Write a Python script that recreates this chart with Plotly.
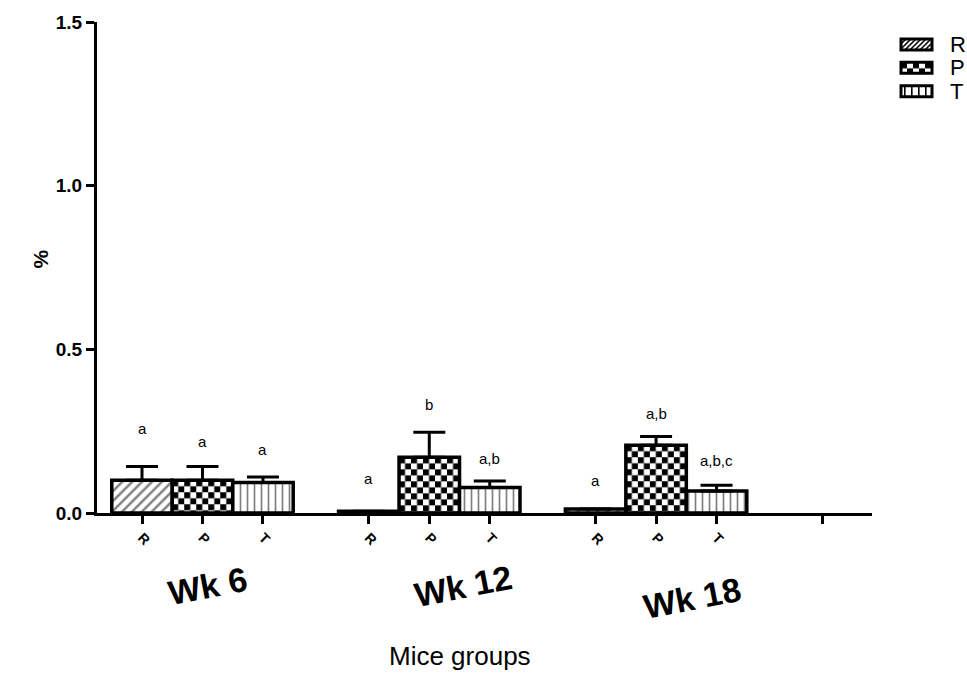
import base64
import plotly.graph_objects as go

# ---------------- data ----------------
groups = ["Wk 6", "Wk 12", "Wk 18"]
series_names = ["R", "P", "T"]

r_values = [0.100, 0.005, 0.012]
p_values = [0.100, 0.170, 0.207]
t_values = [0.093, 0.078, 0.067]

r_errors = [0.042, 0.0, 0.0]
p_errors = [0.042, 0.077, 0.027]
t_errors = [0.017, 0.020, 0.018]

r_letters = ["a", "a", "a"]
p_letters = ["a", "b", "a,b"]
t_letters = ["a", "a,b", "a,b,c"]

r_letter_y = [0.259, 0.106, 0.098]
p_letter_y = [0.217, 0.332, 0.304]
t_letter_y = [0.195, 0.167, 0.161]

y_ticks = [0.0, 0.5, 1.0, 1.5]
y_tick_labels = ["0.0", "0.5", "1.0", "1.5"]

# ---------------- layout helpers ----------------
W, H = 967, 688
ML, MR, MT, MB = 97, 95, 20, 175
PW = W - ML - MR
PH = H - MT - MB


def px(x):
    return (x - ML) / PW


def py(y):
    return 1 - (y - MT) / PH


FONT = "Liberation Sans, Arial, sans-serif"

group_start = [0.0, 3.75, 7.5]
extra_tick = 11.25


def svg_uri(body, w, h):
    svg = ('<svg xmlns="http://www.w3.org/2000/svg" width="100%" height="100%">'
           '<defs><pattern id="p" x="0" y="0" width="{w}" height="{h}" '
           'patternUnits="userSpaceOnUse">{body}</pattern></defs>'
           '<rect x="0" y="0" width="100%" height="100%" fill="url(#p)"/></svg>'
           ).format(w=w, h=h, body=body)
    return "data:image/svg+xml;base64," + base64.b64encode(svg.encode()).decode()


check_uri = svg_uri('<rect width="12" height="12" fill="white"/>'
                    '<rect width="6" height="6" fill="black"/>'
                    '<rect x="6" y="6" width="6" height="6" fill="black"/>', 12, 12)
diag_uri = svg_uri('<rect width="5" height="5" fill="white"/>'
                   '<path d="M-1.25,1.25 l2.5,-2.5 M0,5 l5,-5 M3.75,6.25 l2.5,-2.5" '
                   'stroke="black" stroke-width="1.6"/>', 5, 5)
vert_uri = svg_uri('<rect width="7" height="7" fill="white"/>'
                   '<rect x="3" y="0" width="1.6" height="7" fill="black"/>', 7, 7)

series_values = [r_values, p_values, t_values]
series_errors = [r_errors, p_errors, t_errors]
series_letters = [r_letters, p_letters, t_letters]
series_letter_y = [r_letter_y, p_letter_y, t_letter_y]

fig = go.Figure()
images = []
annotations = []
shapes = []
tickvals = []
ticktext = []

for si, name in enumerate(series_names):
    xs = [g + si for g in group_start]
    vals = series_values[si]
    errs = series_errors[si]
    if name == "R":
        marker = dict(color="white", line=dict(color="black", width=3.5),
                      pattern=dict(shape="/", fgcolor="black", bgcolor="white",
                                   size=7, solidity=0.35))
    elif name == "T":
        marker = dict(color="white", line=dict(color="black", width=3.5),
                      pattern=dict(shape="|", fgcolor="black", bgcolor="white",
                                   size=7, solidity=0.24))
    else:
        marker = dict(color="rgba(0,0,0,0)", line=dict(color="black", width=3.5))
        for x, v in zip(xs, vals):
            images.append(dict(source=check_uri, xref="x", yref="y",
                               x=x - 0.5, y=v, sizex=1, sizey=v,
                               xanchor="left", yanchor="top",
                               sizing="stretch", layer="below"))
    fig.add_trace(go.Bar(
        x=xs, y=vals, width=1, name=name, marker=marker, showlegend=False,
        error_y=dict(type="data", array=errs, arrayminus=[0] * len(errs),
                     symmetric=False, color="black", thickness=3, width=16),
    ))
    for x, lab, ly in zip(xs, series_letters[si], series_letter_y[si]):
        annotations.append(dict(x=x, y=ly, xref="x", yref="y", text=lab,
                                showarrow=False,
                                font=dict(family=FONT, size=15, color="black")))

for g in group_start:
    for si, name in enumerate(series_names):
        tickvals.append(g + si)
        ticktext.append(name)
tickvals.append(extra_tick)
ticktext.append("")

# group labels
group_label_x = [1.08, 5.31, 9.09]
group_label_py = [586, 586, 598]
for gl, gx, gy in zip(groups, group_label_x, group_label_py):
    annotations.append(dict(x=gx, y=py(gy), xref="x", yref="paper", text=gl,
                            showarrow=False, textangle=-11,
                            xanchor="center", yanchor="middle",
                            font=dict(family=FONT, size=34, color="black",
                                      weight="bold")))

# axis titles
annotations.append(dict(x=px(27), y=py(258), xref="paper", yref="paper", text="%",
                        showarrow=False, textangle=-90,
                        font=dict(family=FONT, size=21, color="black", weight="bold")))
annotations.append(dict(x=px(460), y=py(674), xref="paper", yref="paper",
                        text="Mice groups", showarrow=False,
                        font=dict(family=FONT, size=26, color="black")))

# custom legend
legend_uris = [diag_uri, check_uri, vert_uri]
for i, name in enumerate(series_names):
    cy = 42.5 + 23.5 * i
    x0, x1 = 901, 932
    y0, y1 = cy - 5.5, cy + 5.5
    images.append(dict(source=legend_uris[i], xref="paper", yref="paper",
                       x=px(x0), y=py(y0), sizex=(x1 - x0) / PW, sizey=(y1 - y0) / PH,
                       xanchor="left", yanchor="top", sizing="stretch", layer="above"))
    shapes.append(dict(type="rect", xref="paper", yref="paper",
                       x0=px(x0), x1=px(x1), y0=py(y1), y1=py(y0),
                       line=dict(color="black", width=3)))
    annotations.append(dict(x=px(948), y=py(cy), xref="paper", yref="paper",
                            text=name, showarrow=False, xanchor="left",
                            yanchor="middle",
                            font=dict(family=FONT, size=22, color="black")))

fig.update_layout(
    width=W, height=H, autosize=False,
    margin=dict(l=ML, r=MR, t=MT, b=MB, pad=0),
    paper_bgcolor="white", plot_bgcolor="white",
    barmode="overlay", showlegend=False,
    images=images, annotations=annotations, shapes=shapes,
    xaxis=dict(range=[-0.744, 12.07], tickmode="array", tickvals=tickvals,
               ticktext=ticktext, tickangle=45, ticks="outside", ticklen=8,
               tickwidth=3, tickcolor="black", showline=True, linewidth=3,
               linecolor="black", showgrid=False, zeroline=False,
               tickfont=dict(family=FONT, size=14, color="black", weight="bold")),
    yaxis=dict(range=[0, 1.5], tickmode="array", tickvals=y_ticks,
               ticktext=y_tick_labels, ticks="outside", ticklen=8, tickwidth=3,
               tickcolor="black", showline=True, linewidth=3, linecolor="black",
               showgrid=False, zeroline=False,
               tickfont=dict(family=FONT, size=19, color="black", weight="bold")),
)

fig.write_html("out.html")
